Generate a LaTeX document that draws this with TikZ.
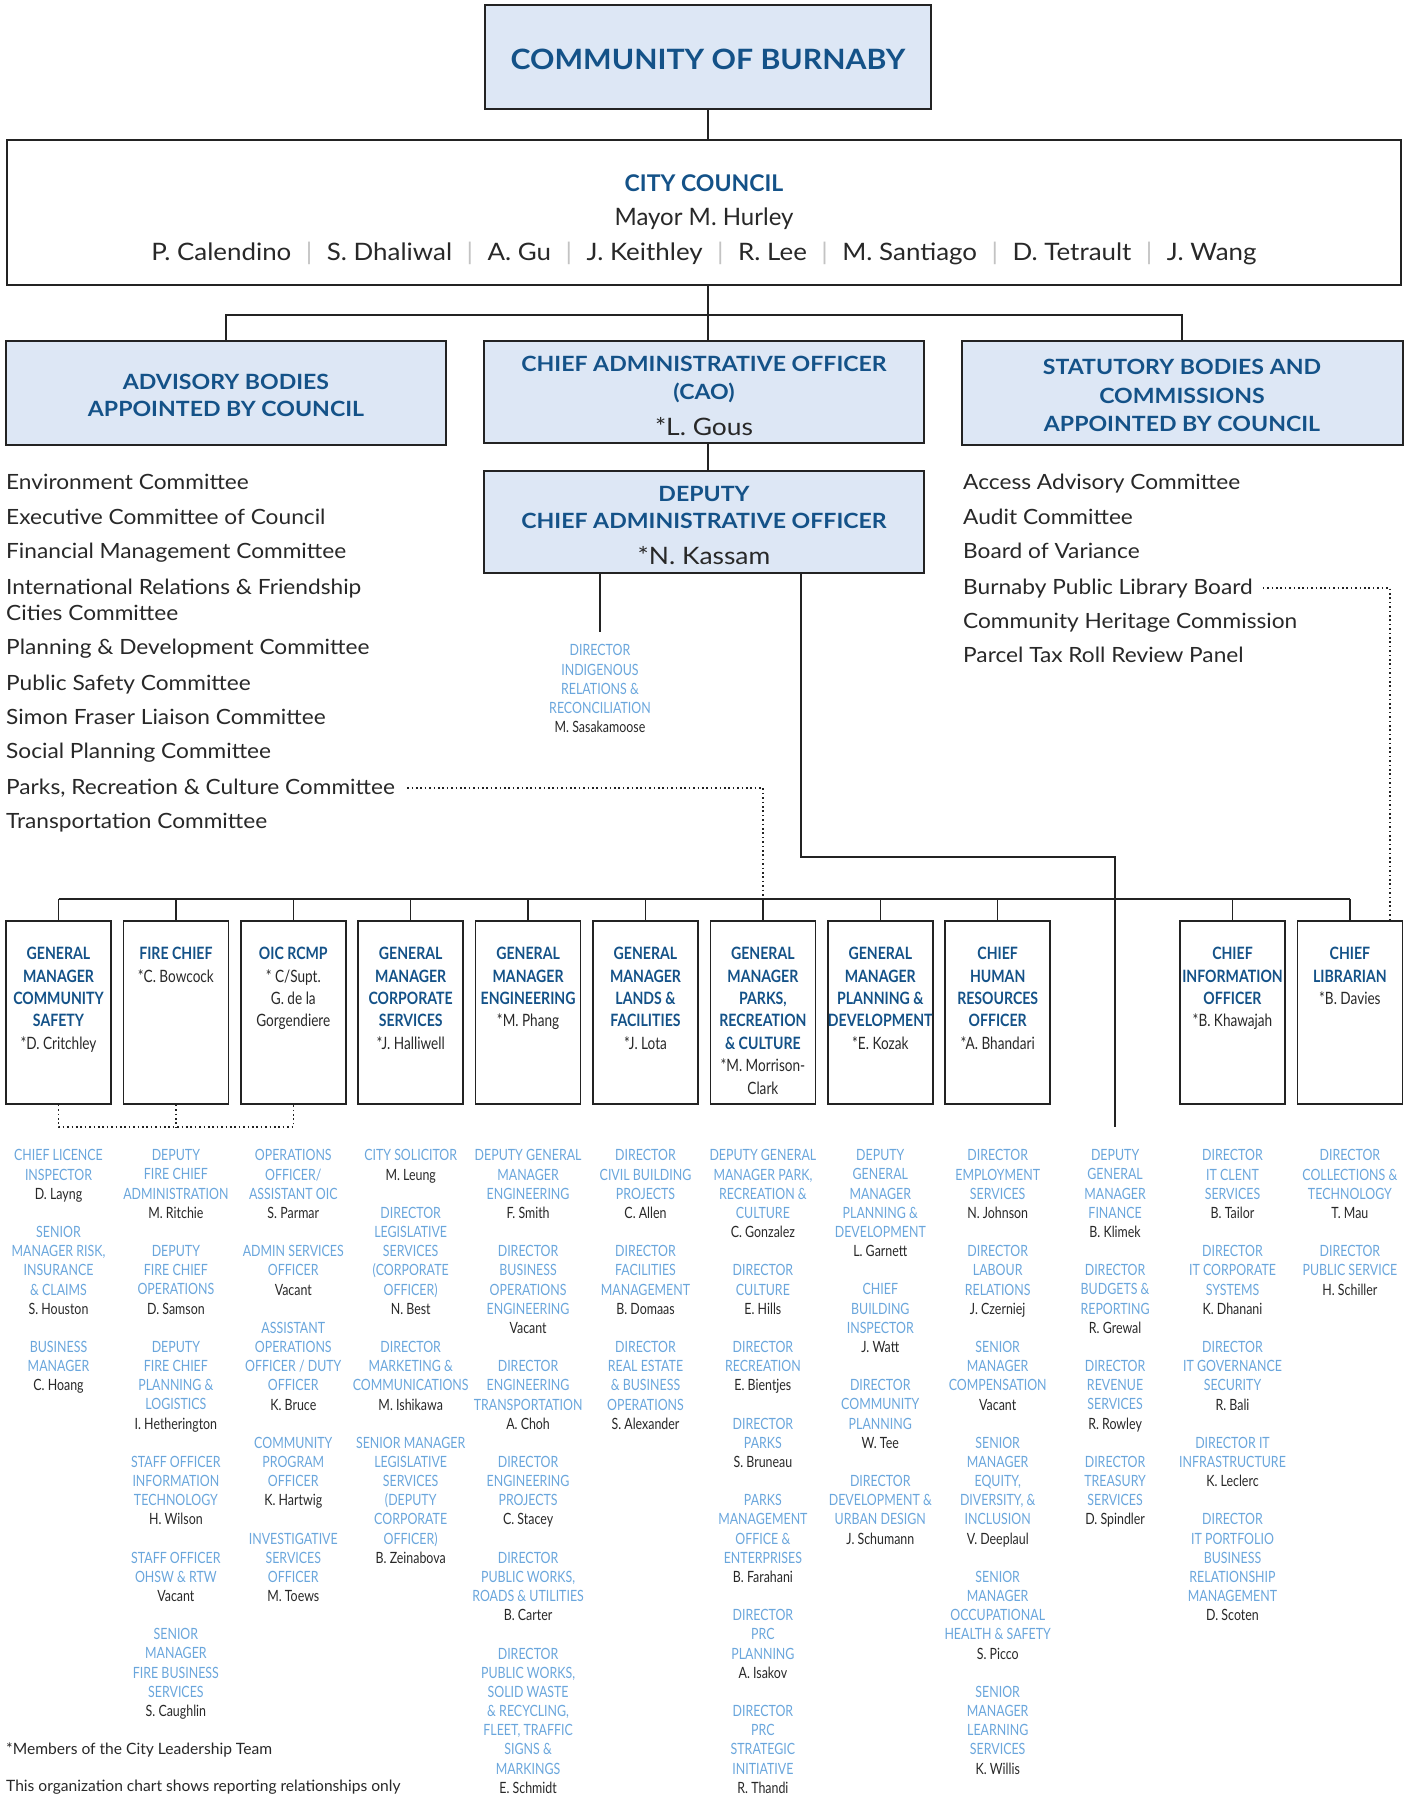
\documentclass[tikz,border=0pt]{standalone}
\usepackage{fontspec}
\setmainfont{Lato}[FakeStretch=1.08]
\newfontfamily\plainf{Lato}
\newfontfamily\wideb{Lato}[FakeStretch=1.1]
\newfontfamily\condf{Lato}[FakeStretch=0.8]
\newfontfamily\condbf{Lato}[FakeStretch=0.83]
\definecolor{hdrblue}{RGB}{20,82,136}
\definecolor{subblue}{RGB}{106,166,220}
\definecolor{boxfill}{RGB}{221,231,245}
\definecolor{lineclr}{RGB}{35,35,35}
\definecolor{namec}{RGB}{40,40,40}
\definecolor{sepc}{RGB}{195,195,195}
\newcommand{\hd}[1]{{\condbf\bfseries\color{hdrblue}#1}}
\newcommand{\ttl}[1]{{\color{subblue}#1}}
\newcommand{\sepbar}{\hspace{14.5pt}{\color{sepc}|}\hspace{14.5pt}}
\begin{document}
\begin{tikzpicture}[x=1pt,y=-1pt,
  bigbox/.style={draw=lineclr, line width=2pt, fill=boxfill, inner sep=0pt},
  boxtext/.style={align=center, inner sep=0pt, text=hdrblue},
  colbox/.style={draw=lineclr, line width=1.6pt, minimum width=105pt, minimum height=183pt, inner sep=0pt},
  coltext/.style={align=center, inner sep=0pt, anchor=north, font=\condf\fontsize{17}{22.4}\selectfont, text=namec},
  sublist/.style={align=center, inner sep=0pt, anchor=north, font=\condf\fontsize{15.5}{19.16}\selectfont, text=namec},
  listitem/.style={anchor=north west, inner sep=0pt, align=left, font=\fontsize{21}{26}\selectfont, text=namec},
  conn/.style={draw=lineclr, line width=1.5pt},
  dotconn/.style={draw=lineclr, line width=1.5pt, dash pattern=on 1.6pt off 2.8pt}
]
\useasboundingbox (0,0) rectangle (1414,1794);

% ---------- top boxes ----------
\node[bigbox, minimum width=446pt, minimum height=104pt] (top) at (708,57) {};
\node[boxtext, font=\bfseries\fontsize{28}{34}\selectfont] (topt) at ([yshift=-2.5pt]top.center) {COMMUNITY OF BURNABY};

\node[bigbox, fill=white, minimum width=1394pt, minimum height=145pt] (council) at (704,212.5) {};
\node[boxtext, text=namec, font=\fontsize{24}{34.5}\selectfont] (councilt) at ([yshift=-7pt]council.center)
  {{\plainf\bfseries\color{hdrblue}\fontsize{23}{34.5}\selectfont CITY COUNCIL}\\
   {\plainf Mayor M. Hurley}\\
   P. Calendino\sepbar S. Dhaliwal\sepbar A. Gu\sepbar J. Keithley\sepbar R. Lee\sepbar M. Santiago\sepbar D. Tetrault\sepbar J. Wang};

\node[bigbox, minimum width=440pt, minimum height=104pt] (adv) at (226,393) {};
\node[boxtext, font=\wideb\bfseries\fontsize{21}{27}\selectfont] (advt) at ([yshift=-2.5pt]adv.center)
  {ADVISORY BODIES\\APPOINTED BY COUNCIL};
\node[bigbox, minimum width=440pt, minimum height=102pt] (cao) at (704,392) {};
\node[boxtext, font=\wideb\bfseries\fontsize{21}{28}\selectfont] (caot) at ([yshift=-3.5pt]cao.center)
  {CHIEF ADMINISTRATIVE OFFICER\\(CAO)\\[8pt]{\mdseries\color{namec}\fontsize{24}{28}\selectfont *L. Gous}};
\node[bigbox, minimum width=441pt, minimum height=104pt] (stat) at (1182,393) {};
\node[boxtext, font=\wideb\bfseries\fontsize{21}{28.5}\selectfont] (statt) at ([yshift=-2.5pt]stat.center)
  {STATUTORY BODIES AND\\COMMISSIONS\\APPOINTED BY COUNCIL};
\node[bigbox, minimum width=440pt, minimum height=102pt] (dep) at (704,522) {};
\node[boxtext, font=\wideb\bfseries\fontsize{21}{27.5}\selectfont] (dept) at ([yshift=-3.5pt]dep.center)
  {DEPUTY\\CHIEF ADMINISTRATIVE OFFICER\\[8.5pt]{\mdseries\color{namec}\fontsize{24}{28}\selectfont *N. Kassam}};

\coordinate (bar) at (708,315);
\draw[conn] (top.south) -- (top.south |- council.north);
\draw[conn] (council.south -| bar) -- (cao.north -| bar);
\draw[conn] (adv.north) |- (bar) -| (stat.north);
\draw[conn] (cao.south -| bar) -- (dep.north -| bar);

% ---------- committee lists ----------
\node[listitem] (l1) at (6,474) {Environment Committee};
\node[listitem] (l2) at (6,508.5) {Executive Committee of Council};
\node[listitem] (l3) at (6,542.5) {Financial Management Committee};
\node[listitem] (l4) at (6,578.5) {International Relations \& Friendship\\Cities Committee};
\node[listitem] (l5) at (6,638.5) {Planning \& Development Committee};
\node[listitem] (l6) at (6,674.5) {Public Safety Committee};
\node[listitem] (l7) at (6,708.5) {Simon Fraser Liaison Committee};
\node[listitem] (l8) at (6,742.5) {Social Planning Committee};
\node[listitem] (l9) at (6,778.5) {Parks, Recreation \& Culture Committee};
\node[listitem] (l10) at (6,812.5) {Transportation Committee};

\node[listitem] (r1) at (963,474) {Access Advisory Committee};
\node[listitem] (r2) at (963,508.5) {Audit Committee};
\node[listitem] (r3) at (963,542.5) {Board of Variance};
\node[listitem] (r4) at (963,578.5) {Burnaby Public Library Board};
\node[listitem] (r5) at (963,612.5) {Community Heritage Commission};
\node[listitem] (r6) at (963,646.5) {Parcel Tax Roll Review Panel};

% ---------- indigenous ----------
\node[sublist] (indig) at (600,644.5) {\ttl{DIRECTOR}\\\ttl{INDIGENOUS}\\\ttl{RELATIONS \&}\\\ttl{RECONCILIATION}\\M. Sasakamoose};
\draw[conn] (dep.south -| indig.north) -- ([yshift=13pt]indig.north);

% ---------- column boxes ----------
\foreach \i/\cx in {0/58.5,1/175.9,2/293.3,3/410.7,4/528.1,5/645.5,6/762.9,7/880.3,8/997.7,10/1232.5,11/1349.9}{
  \node[colbox] (c\i) at (\cx,1012.5) {};
  \coordinate (bus\i) at (\cx,899);
  \draw[conn] (c\i.north) -- (bus\i);
}
\coordinate (bus9) at (1115.1,899);
\draw[conn] (bus0) -- (bus11);

\node[coltext] (t0) at (c0.center |- 0,947) {\hd{GENERAL}\\\hd{MANAGER}\\\hd{COMMUNITY}\\\hd{SAFETY}\\*D. Critchley};
\node[coltext] (t1) at (c1.center |- 0,947) {\hd{FIRE CHIEF}\\*C. Bowcock};
\node[coltext] (t2) at (c2.center |- 0,947) {\hd{OIC RCMP}\\* C/Supt.\\G. de la\\Gorgendiere};
\node[coltext] (t3) at (c3.center |- 0,947) {\hd{GENERAL}\\\hd{MANAGER}\\\hd{CORPORATE}\\\hd{SERVICES}\\*J. Halliwell};
\node[coltext] (t4) at (c4.center |- 0,947) {\hd{GENERAL}\\\hd{MANAGER}\\\hd{ENGINEERING}\\*M. Phang};
\node[coltext] (t5) at (c5.center |- 0,947) {\hd{GENERAL}\\\hd{MANAGER}\\\hd{LANDS \&}\\\hd{FACILITIES}\\*J. Lota};
\node[coltext] (t6) at (c6.center |- 0,947) {\hd{GENERAL}\\\hd{MANAGER}\\\hd{PARKS,}\\\hd{RECREATION}\\\hd{\& CULTURE}\\*M. Morrison-\\Clark};
\node[coltext] (t7) at (c7.center |- 0,947) {\hd{GENERAL}\\\hd{MANAGER}\\\hd{PLANNING \&}\\\hd{DEVELOPMENT}\\*E. Kozak};
\node[coltext] (t8) at (c8.center |- 0,947) {\hd{CHIEF}\\\hd{HUMAN}\\\hd{RESOURCES}\\\hd{OFFICER}\\*A. Bhandari};
\node[coltext] (t10) at (c10.center |- 0,947) {\hd{CHIEF}\\\hd{INFORMATION}\\\hd{OFFICER}\\*B. Khawajah};
\node[coltext] (t11) at (c11.center |- 0,947) {\hd{CHIEF}\\\hd{LIBRARIAN}\\*B. Davies};

% ---------- finance line ----------
\coordinate (fintop) at (1115.1,857);
\coordinate (finend) at (1115.1,1127);
\draw[conn] ([xshift=97pt]dep.south) |- (fintop) -- (finend);

% ---------- dotted ----------
\draw[dotconn] ([xshift=12pt]l9.east) -| (bus6);
\draw[dotconn] ([xshift=10pt]r4.east) -| ([xshift=-13pt]c11.north east);
\coordinate (dl) at (58.5,1127);
\draw[dotconn] (c0.south) -- (dl) -| (c2.south);
\draw[dotconn] (c1.south) -- (c1.south |- dl);

% ---------- sub lists ----------
\node[sublist] (s0) at (58.5,1149.5) {\ttl{CHIEF LICENCE}\\\ttl{INSPECTOR}\\D. Layng\\[19.16pt]
 \ttl{SENIOR}\\\ttl{MANAGER RISK,}\\\ttl{INSURANCE}\\\ttl{\& CLAIMS}\\S. Houston\\[19.16pt]
 \ttl{BUSINESS}\\\ttl{MANAGER}\\C. Hoang};
\node[sublist] (s1) at (175.9,1149.5) {\ttl{DEPUTY}\\\ttl{FIRE CHIEF}\\\ttl{ADMINISTRATION}\\M. Ritchie\\[19.16pt]
 \ttl{DEPUTY}\\\ttl{FIRE CHIEF}\\\ttl{OPERATIONS}\\D. Samson\\[19.16pt]
 \ttl{DEPUTY}\\\ttl{FIRE CHIEF}\\\ttl{PLANNING \&}\\\ttl{LOGISTICS}\\I. Hetherington\\[19.16pt]
 \ttl{STAFF OFFICER}\\\ttl{INFORMATION}\\\ttl{TECHNOLOGY}\\H. Wilson\\[19.16pt]
 \ttl{STAFF OFFICER}\\\ttl{OHSW \& RTW}\\Vacant\\[19.16pt]
 \ttl{SENIOR}\\\ttl{MANAGER}\\\ttl{FIRE BUSINESS}\\\ttl{SERVICES}\\S. Caughlin};
\node[sublist] (s2) at (293.3,1149.5) {\ttl{OPERATIONS}\\\ttl{OFFICER/}\\\ttl{ASSISTANT OIC}\\S. Parmar\\[19.16pt]
 \ttl{ADMIN SERVICES}\\\ttl{OFFICER}\\Vacant\\[19.16pt]
 \ttl{ASSISTANT}\\\ttl{OPERATIONS}\\\ttl{OFFICER / DUTY}\\\ttl{OFFICER}\\K. Bruce\\[19.16pt]
 \ttl{COMMUNITY}\\\ttl{PROGRAM}\\\ttl{OFFICER}\\K. Hartwig\\[19.16pt]
 \ttl{INVESTIGATIVE}\\\ttl{SERVICES}\\\ttl{OFFICER}\\M. Toews};
\node[sublist] (s3) at (410.7,1149.5) {\ttl{CITY SOLICITOR}\\M. Leung\\[19.16pt]
 \ttl{DIRECTOR}\\\ttl{LEGISLATIVE}\\\ttl{SERVICES}\\\ttl{(CORPORATE}\\\ttl{OFFICER)}\\N. Best\\[19.16pt]
 \ttl{DIRECTOR}\\\ttl{MARKETING \&}\\\ttl{COMMUNICATIONS}\\M. Ishikawa\\[19.16pt]
 \ttl{SENIOR MANAGER}\\\ttl{LEGISLATIVE}\\\ttl{SERVICES}\\\ttl{(DEPUTY}\\\ttl{CORPORATE}\\\ttl{OFFICER)}\\B. Zeinabova};
\node[sublist] (s4) at (528.1,1149.5) {\ttl{DEPUTY GENERAL}\\\ttl{MANAGER}\\\ttl{ENGINEERING}\\F. Smith\\[19.16pt]
 \ttl{DIRECTOR}\\\ttl{BUSINESS}\\\ttl{OPERATIONS}\\\ttl{ENGINEERING}\\Vacant\\[19.16pt]
 \ttl{DIRECTOR}\\\ttl{ENGINEERING}\\\ttl{TRANSPORTATION}\\A. Choh\\[19.16pt]
 \ttl{DIRECTOR}\\\ttl{ENGINEERING}\\\ttl{PROJECTS}\\C. Stacey\\[19.16pt]
 \ttl{DIRECTOR}\\\ttl{PUBLIC WORKS,}\\\ttl{ROADS \& UTILITIES}\\B. Carter\\[19.16pt]
 \ttl{DIRECTOR}\\\ttl{PUBLIC WORKS,}\\\ttl{SOLID WASTE}\\\ttl{\& RECYCLING,}\\\ttl{FLEET, TRAFFIC}\\\ttl{SIGNS \&}\\\ttl{MARKINGS}\\E. Schmidt};
\node[sublist] (s5) at (645.5,1149.5) {\ttl{DIRECTOR}\\\ttl{CIVIL BUILDING}\\\ttl{PROJECTS}\\C. Allen\\[19.16pt]
 \ttl{DIRECTOR}\\\ttl{FACILITIES}\\\ttl{MANAGEMENT}\\B. Domaas\\[19.16pt]
 \ttl{DIRECTOR}\\\ttl{REAL ESTATE}\\\ttl{\& BUSINESS}\\\ttl{OPERATIONS}\\S. Alexander};
\node[sublist] (s6) at (762.9,1149.5) {\ttl{DEPUTY GENERAL}\\\ttl{MANAGER PARK,}\\\ttl{RECREATION \&}\\\ttl{CULTURE}\\C. Gonzalez\\[19.16pt]
 \ttl{DIRECTOR}\\\ttl{CULTURE}\\E. Hills\\[19.16pt]
 \ttl{DIRECTOR}\\\ttl{RECREATION}\\E. Bientjes\\[19.16pt]
 \ttl{DIRECTOR}\\\ttl{PARKS}\\S. Bruneau\\[19.16pt]
 \ttl{PARKS}\\\ttl{MANAGEMENT}\\\ttl{OFFICE \&}\\\ttl{ENTERPRISES}\\B. Farahani\\[19.16pt]
 \ttl{DIRECTOR}\\\ttl{PRC}\\\ttl{PLANNING}\\A. Isakov\\[19.16pt]
 \ttl{DIRECTOR}\\\ttl{PRC}\\\ttl{STRATEGIC}\\\ttl{INITIATIVE}\\R. Thandi};
\node[sublist] (s7) at (880.3,1149.5) {\ttl{DEPUTY}\\\ttl{GENERAL}\\\ttl{MANAGER}\\\ttl{PLANNING \&}\\\ttl{DEVELOPMENT}\\L. Garnett\\[19.16pt]
 \ttl{CHIEF}\\\ttl{BUILDING}\\\ttl{INSPECTOR}\\J. Watt\\[19.16pt]
 \ttl{DIRECTOR}\\\ttl{COMMUNITY}\\\ttl{PLANNING}\\W. Tee\\[19.16pt]
 \ttl{DIRECTOR}\\\ttl{DEVELOPMENT \&}\\\ttl{URBAN DESIGN}\\J. Schumann};
\node[sublist] (s8) at (997.7,1149.5) {\ttl{DIRECTOR}\\\ttl{EMPLOYMENT}\\\ttl{SERVICES}\\N. Johnson\\[19.16pt]
 \ttl{DIRECTOR}\\\ttl{LABOUR}\\\ttl{RELATIONS}\\J. Czerniej\\[19.16pt]
 \ttl{SENIOR}\\\ttl{MANAGER}\\\ttl{COMPENSATION}\\Vacant\\[19.16pt]
 \ttl{SENIOR}\\\ttl{MANAGER}\\\ttl{EQUITY,}\\\ttl{DIVERSITY, \&}\\\ttl{INCLUSION}\\V. Deeplaul\\[19.16pt]
 \ttl{SENIOR}\\\ttl{MANAGER}\\\ttl{OCCUPATIONAL}\\\ttl{HEALTH \& SAFETY}\\S. Picco\\[19.16pt]
 \ttl{SENIOR}\\\ttl{MANAGER}\\\ttl{LEARNING}\\\ttl{SERVICES}\\K. Willis};
\node[sublist] (s9) at (1115.1,1149.5) {\ttl{DEPUTY}\\\ttl{GENERAL}\\\ttl{MANAGER}\\\ttl{FINANCE}\\B. Klimek\\[19.16pt]
 \ttl{DIRECTOR}\\\ttl{BUDGETS \&}\\\ttl{REPORTING}\\R. Grewal\\[19.16pt]
 \ttl{DIRECTOR}\\\ttl{REVENUE}\\\ttl{SERVICES}\\R. Rowley\\[19.16pt]
 \ttl{DIRECTOR}\\\ttl{TREASURY}\\\ttl{SERVICES}\\D. Spindler};
\node[sublist] (s10) at (1232.5,1149.5) {\ttl{DIRECTOR}\\\ttl{IT CLENT}\\\ttl{SERVICES}\\B. Tailor\\[19.16pt]
 \ttl{DIRECTOR}\\\ttl{IT CORPORATE}\\\ttl{SYSTEMS}\\K. Dhanani\\[19.16pt]
 \ttl{DIRECTOR}\\\ttl{IT GOVERNANCE}\\\ttl{SECURITY}\\R. Bali\\[19.16pt]
 \ttl{DIRECTOR IT}\\\ttl{INFRASTRUCTURE}\\K. Leclerc\\[19.16pt]
 \ttl{DIRECTOR}\\\ttl{IT PORTFOLIO}\\\ttl{BUSINESS}\\\ttl{RELATIONSHIP}\\\ttl{MANAGEMENT}\\D. Scoten};
\node[sublist] (s11) at (1349.9,1149.5) {\ttl{DIRECTOR}\\\ttl{COLLECTIONS \&}\\\ttl{TECHNOLOGY}\\T. Mau\\[19.16pt]
 \ttl{DIRECTOR}\\\ttl{PUBLIC SERVICE}\\H. Schiller};

% ---------- footer ----------
\node[anchor=base west, inner sep=0pt, text=namec, font=\plainf\fontsize{15.6}{18}\selectfont] (f1) at (6,1754) {*Members of the City Leadership Team};
\node[anchor=base west, inner sep=0pt, text=namec, font=\plainf\fontsize{15.6}{18}\selectfont] (f2) at (6,1791) {This organization chart shows reporting relationships only};
\end{tikzpicture}
\end{document}
